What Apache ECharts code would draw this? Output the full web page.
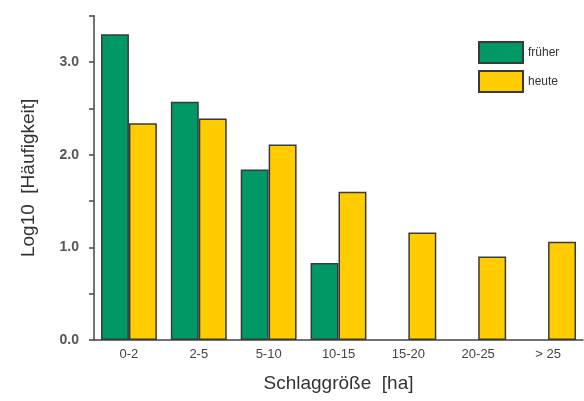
<!DOCTYPE html>
<html>
<head>
<meta charset="utf-8">
<script src="https://cdn.jsdelivr.net/npm/echarts@6/dist/echarts.min.js"></script>
<style>
  html, body { margin: 0; padding: 0; background: #fff; }
  #chart { width: 584px; height: 401px; }
</style>
</head>
<body>
<div id="chart"></div>
<script>
// Schlaggrößen-Klassen
var categories = ["0-2", "2-5", "5-10", "10-15", "15-20", "20-25", "> 25"];
// log10 der Häufigkeit
var frueher = [3.30, 2.57, 1.84, 0.83, null, null, null];
var heute = [2.34, 2.39, 2.11, 1.60, 1.16, 0.90, 1.06];

var chart = echarts.init(document.getElementById("chart"));
var border = { borderColor: "#3a3a3a", borderWidth: 1.5 };

var option = {
  animation: false,
  textStyle: { fontFamily: "Liberation Sans, Arial, sans-serif" },
  grid: { left: 94, right: 1, top: 15.7, bottom: 61 },
  legend: {
    orient: "vertical",
    left: 473,
    top: 36,
    icon: "rect",
    itemWidth: 44,
    itemHeight: 21,
    itemGap: 6,
    textStyle: { fontSize: 12, color: "#333" },
    data: ["früher", "heute"]
  },
  xAxis: {
    type: "category",
    data: categories,
    name: "Schlaggröße  [ha]",
    nameLocation: "middle",
    nameGap: 34,
    nameTextStyle: { fontSize: 19, color: "#333" },
    axisLine: { lineStyle: { color: "#444", width: 1.5 } },
    axisTick: { length: 4, lineStyle: { color: "#444", width: 1.5 } },
    axisLabel: { fontSize: 13, color: "#444", margin: 8 }
  },
  yAxis: {
    type: "value",
    min: 0,
    max: 3.5,
    interval: 0.5,
    name: "Log10  [Häufigkeit]",
    nameLocation: "middle",
    nameGap: 56,
    nameTextStyle: { fontSize: 19, color: "#333" },
    splitLine: { show: false },
    axisLine: { show: true, lineStyle: { color: "#444", width: 1.5 } },
    axisTick: { show: true, length: 5, lineStyle: { color: "#444", width: 1.5 } },
    axisLabel: {
      fontSize: 14,
      fontWeight: "bold",
      color: "#555",
      margin: 15,
      formatter: function (v) {
        return Math.abs(v - Math.round(v)) < 1e-6 && v < 3.5 ? v.toFixed(1) : "";
      }
    }
  },
  series: [
    {
      name: "früher",
      type: "bar",
      data: frueher,
      barGap: "0%",
      barCategoryGap: "20%",
      itemStyle: Object.assign({ color: "#009966" }, border)
    },
    {
      name: "heute",
      type: "bar",
      data: heute,
      itemStyle: Object.assign({ color: "#ffcc00" }, border)
    }
  ]
};

chart.setOption(option);
window.addEventListener("resize", function () {
  chart.resize();
});
</script>
</body>
</html>
